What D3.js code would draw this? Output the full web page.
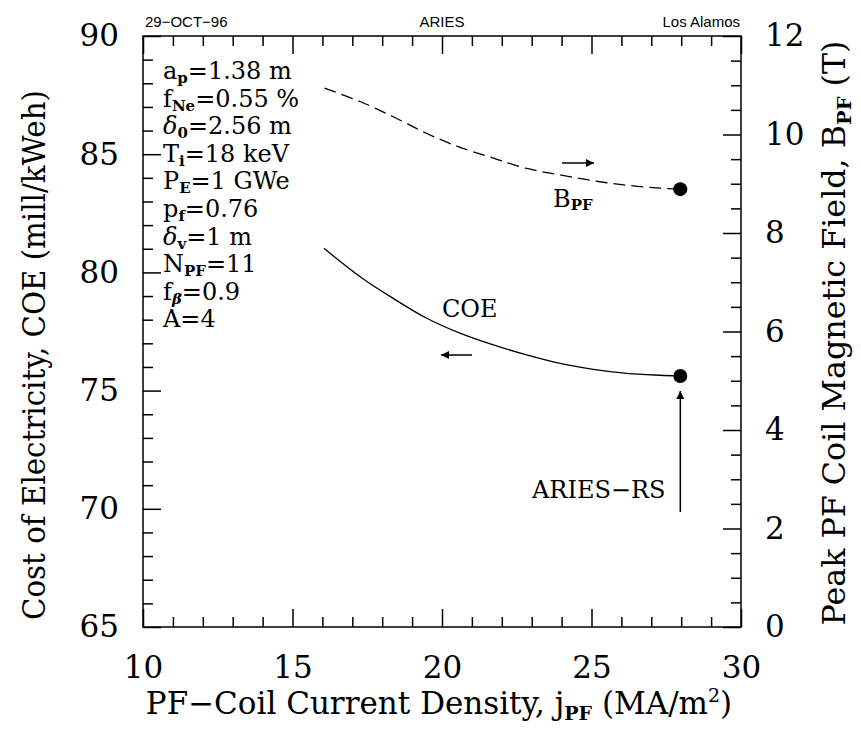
<!DOCTYPE html>
<html><head><meta charset="utf-8">
<script src="https://cdn.jsdelivr.net/npm/d3@7"></script>
<style>body{margin:0;background:#fff}svg{display:block}</style>
</head><body>
<script>
// ---- data ----
const coeJ = [16.05, 17.26, 18.37, 19.49, 20.60, 21.72, 22.83, 23.95, 25.06, 26.18, 27.29, 27.96];
const coeVal = [81.02, 79.82, 78.90, 78.06, 77.43, 76.93, 76.51, 76.15, 75.90, 75.73, 75.65, 75.62];
const bpfJ = [16.07, 17.26, 18.37, 19.49, 20.60, 21.72, 22.83, 23.95, 25.06, 26.18, 27.29, 27.98];
const bpfVal = [10.94, 10.67, 10.36, 10.02, 9.74, 9.52, 9.31, 9.18, 9.06, 8.97, 8.91, 8.89];
const designJ = 27.97, designCOE = 75.62, designB = 8.89;
const xMajor = [10, 15, 20, 25, 30];
const yLMajor = [65, 70, 75, 80, 85, 90];
const yRMajor = [0, 2, 4, 6, 8, 10, 12];
const params = [
  [["a",""],["p","sub"],["=1.38 m",""]],
  [["f",""],["Ne","sub"],["=0.55 %",""]],
  [["δ","it"],["0","sub"],["=2.56 m",""]],
  [["T",""],["i","sub"],["=18 keV",""]],
  [["P",""],["E","sub"],["=1 GWe",""]],
  [["p",""],["f","sub"],["=0.76",""]],
  [["δ","it"],["v","sub"],["=1 m",""]],
  [["N",""],["PF","sub"],["=11",""]],
  [["f",""],["β","subit"],["=0.9",""]],
  [["A=4",""]]
];

const W = 861, H = 733;
const m = {l: 143, r: 741, t: 36, b: 627};
const serif = "'DejaVu Serif', serif";
const sans = "'Liberation Sans', Arial, sans-serif";

const svg = d3.select("body").append("svg").attr("width", W).attr("height", H);
const x = d3.scaleLinear().domain([10, 30]).range([m.l, m.r]);
const yL = d3.scaleLinear().domain([65, 90]).range([m.b, m.t]);
const yR = d3.scaleLinear().domain([0, 12]).range([m.b, m.t]);

const xMinor = d3.range(10, 30.01, 1).filter(v => v % 5 !== 0);
const yLMinor = d3.range(65, 90.01, 1).filter(v => v % 5 !== 0);
const yRMinor = d3.range(0, 12.01, 0.5).filter(v => v % 2 !== 0);

function style(g, labels) {
  g.select(".domain").remove();
  g.selectAll(".tick line").attr("stroke", "#000").attr("stroke-width", 1.5);
  g.selectAll(".tick text").attr("fill", "#000").style("font-family", serif).style("font-size", "31px");
  if (!labels) g.selectAll(".tick text").remove();
}
// bottom
svg.append("g").attr("transform", `translate(0,${m.b})`)
  .call(d3.axisBottom(x).tickValues(xMajor).tickSize(-18).tickPadding(29).tickFormat(d3.format("d"))).call(g => style(g, true));
svg.append("g").attr("transform", `translate(0,${m.b})`)
  .call(d3.axisBottom(x).tickValues(xMinor).tickSize(-10).tickFormat("")).call(g => style(g, false));
// top
svg.append("g").attr("transform", `translate(0,${m.t})`)
  .call(d3.axisTop(x).tickValues(xMajor).tickSize(-18).tickFormat("")).call(g => style(g, false));
svg.append("g").attr("transform", `translate(0,${m.t})`)
  .call(d3.axisTop(x).tickValues(xMinor).tickSize(-10).tickFormat("")).call(g => style(g, false));
// left
svg.append("g").attr("transform", `translate(${m.l},0)`)
  .call(d3.axisLeft(yL).tickValues(yLMajor).tickSize(-18).tickPadding(24).tickFormat(d3.format("d"))).call(g => style(g, true));
svg.append("g").attr("transform", `translate(${m.l},0)`)
  .call(d3.axisLeft(yL).tickValues(yLMinor).tickSize(-10).tickFormat("")).call(g => style(g, false));
// right
svg.append("g").attr("transform", `translate(${m.r},0)`)
  .call(d3.axisRight(yR).tickValues(yRMajor).tickSize(-18).tickPadding(24).tickFormat(d3.format("d"))).call(g => style(g, true));
svg.append("g").attr("transform", `translate(${m.r},0)`)
  .call(d3.axisRight(yR).tickValues(yRMinor).tickSize(-10).tickFormat("")).call(g => style(g, false));

// frame
svg.append("rect").attr("x", m.l).attr("y", m.t).attr("width", m.r - m.l).attr("height", m.b - m.t)
  .attr("fill", "none").attr("stroke", "#000").attr("stroke-width", 1.5);

// header
const hdr = svg.append("g").style("font-family", sans).style("font-size", "15px").attr("fill", "#000");
hdr.append("text").attr("x", m.l + 2).attr("y", 27).text("29−OCT−96");
hdr.append("text").attr("x", (m.l + m.r) / 2).attr("y", 27).attr("text-anchor", "middle").text("ARIES");
hdr.append("text").attr("x", m.r - 1).attr("y", 27).attr("text-anchor", "end").text("Los Alamos");

// axis titles
const xt = svg.append("text").attr("x", 439).attr("y", 714).attr("text-anchor", "middle")
  .style("font-family", serif).style("font-size", "31px");
xt.append("tspan").text("PF−Coil Current Density, j");
xt.append("tspan").attr("dy", 6).style("font-size", "19px").style("font-weight", "bold").text("PF");
xt.append("tspan").attr("dy", -6).text(" (MA/m");
xt.append("tspan").attr("dy", -12).style("font-size", "19px").text("2");
xt.append("tspan").attr("dy", 12).text(")");

svg.append("text").attr("transform", `translate(45,355) rotate(-90)`).attr("text-anchor", "middle")
  .style("font-family", serif).style("font-size", "31px")
  .attr("textLength", 530).attr("lengthAdjust", "spacingAndGlyphs")
  .text("Cost of Electricity, COE (mill/kWeh)");

const yrt = svg.append("g").attr("transform", `translate(845,333) rotate(-90)`);
const yrtx = yrt.append("text").attr("text-anchor", "middle")
  .style("font-family", serif).style("font-size", "31px");
yrtx.append("tspan").text("Peak PF Coil Magnetic Field, B");
yrtx.append("tspan").attr("dy", 6).style("font-size", "19px").style("font-weight", "bold").text("PF");
yrtx.append("tspan").attr("dy", -6).text(" (T)");
// compress horizontally to match reference length
const rlen = yrtx.node().getComputedTextLength();
yrtx.attr("transform", `scale(${585 / rlen},1)`);

// parameter block
const pg = svg.append("g").style("font-family", serif).style("font-size", "24px");
params.forEach((parts, i) => {
  const t = pg.append("text").attr("x", 163).attr("y", 79 + i * 27.6);
  let down = false;
  parts.forEach(([s, k]) => {
    const sp = t.append("tspan").text(s);
    if (k === "it") sp.style("font-style", "italic");
    if (k.startsWith("sub")) {
      sp.attr("dy", 4).style("font-size", "15px").style("font-weight", "bold");
      if (k === "subit") sp.style("font-style", "italic");
      down = true;
    } else if (down) {
      sp.attr("dy", -4);
      down = false;
    }
  });
});

// curves
const line = d3.line().curve(d3.curveCatmullRom.alpha(0.5));
svg.append("path")
  .attr("d", line(coeJ.map((j, i) => [x(j), yL(coeVal[i])])))
  .attr("fill", "none").attr("stroke", "#000").attr("stroke-width", 1.3);
svg.append("path")
  .attr("d", line(bpfJ.map((j, i) => [x(j), yR(bpfVal[i])])))
  .attr("fill", "none").attr("stroke", "#000").attr("stroke-width", 1.3).attr("stroke-dasharray", "12,6");
svg.append("circle").attr("cx", x(designJ)).attr("cy", yL(designCOE)).attr("r", 7).attr("fill", "#000");
svg.append("circle").attr("cx", x(designJ)).attr("cy", yR(designB)).attr("r", 7).attr("fill", "#000");

// arrows
const defs = svg.append("defs");
defs.append("marker").attr("id", "ah").attr("viewBox", "0 0 10 10").attr("refX", 10).attr("refY", 5)
  .attr("markerWidth", 10).attr("markerHeight", 8).attr("markerUnits", "userSpaceOnUse").attr("orient", "auto")
  .append("path").attr("d", "M0,0L10,5L0,10Z").attr("fill", "#000");
function arrow(x1, y1, x2, y2) {
  svg.append("line").attr("x1", x1).attr("y1", y1).attr("x2", x2).attr("y2", y2)
    .attr("stroke", "#000").attr("stroke-width", 1.5).attr("marker-end", "url(#ah)");
}
arrow(562, 163, 594, 163);
arrow(472, 355, 441, 355);
arrow(x(designJ), 512, x(designJ), 391);

// labels
const lab = svg.append("g").style("font-family", serif).style("font-size", "24px");
const bl = lab.append("text").attr("x", 553).attr("y", 207);
bl.append("tspan").text("B");
bl.append("tspan").attr("dy", 3).style("font-size", "15px").style("font-weight", "bold").text("PF");
lab.append("text").attr("x", 442).attr("y", 317).text("COE");
lab.append("text").attr("x", 532).attr("y", 498).text("ARIES−RS");
</script>
</body></html>
